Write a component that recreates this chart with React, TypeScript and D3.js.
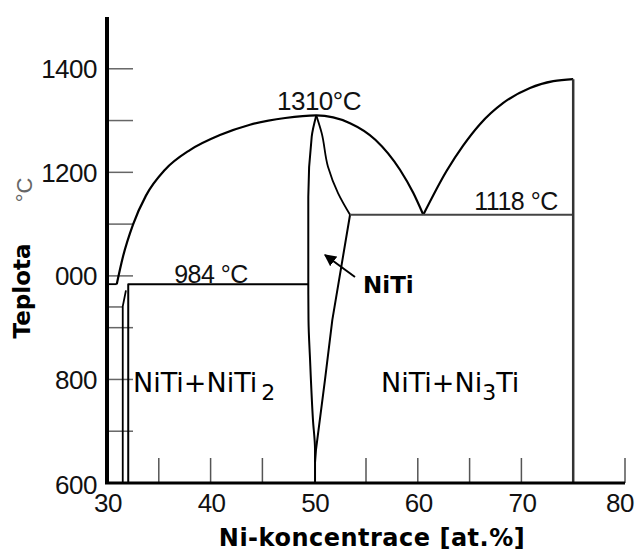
import React from "react";
import * as d3 from "d3";

// Ni–Ti binary phase diagram, Ni-rich side around the NiTi phase
const W = 638;
const H = 552;

// axis domains
const xDomain = [30, 80];
const yDomain = [600, 1500];

// tick positions and labels
const xMinorTicks = [35, 40, 45, 55, 60, 65, 70, 80];
const yMinorTicks = [700, 800, 900, 1000, 1100, 1200, 1300, 1400];
const xTickLabels = [30, 40, 50, 60, 70, 80];
const yTickValues = [1400, 1200, 1000, 800, 600];
const yTickTexts = ["1400", "1200", "000", "800", "600"];

// liquidus: dome over NiTi (Ti-rich eutectic 984 °C up to congruent melting 1310 °C, down to 1118 °C)
const liquidusDome: [number, number][] = [
  [30.94, 984], [31.54, 1037], [32.51, 1099], [33.76, 1155], [35.6, 1205],
  [38.0, 1243], [40.9, 1272], [43.8, 1292], [47.2, 1305], [50.2, 1310],
  [53.46, 1295], [55.9, 1263], [58.28, 1205], [59.57, 1160], [60.53, 1118],
];
// liquidus from the 1118 °C eutectic up to Ni3Ti melting
const liquidusNi3Ti: [number, number][] = [
  [60.53, 1118], [62.79, 1203], [64.39, 1252], [66.0, 1293], [68.25, 1334],
  [70.83, 1363], [73.08, 1376], [75, 1380],
];
// NiTi single-phase field boundaries
const nitiLeft: [number, number][] = [
  [50.2, 1310], [49.76, 1269], [49.43, 1153], [49.43, 992], [49.45, 915],
  [49.6, 838], [49.88, 722], [50.08, 664], [50.08, 600],
];
const nitiRightUpper: [number, number][] = [
  [50.2, 1310], [50.72, 1276], [51.33, 1211], [52.3, 1160], [53.46, 1118],
];
const nitiRightLower: [number, number][] = [
  [53.46, 1118], [51.75, 915], [51.04, 799], [50.17, 664], [50.08, 640],
];
// straight phase lines
const eutecticStub: [number, number][] = [[30, 984], [30.94, 984]];
const eutectoidStub: [number, number][] = [[30, 940], [31.5, 940]];
const ti2niSolvus: [number, number][] = [[31.83, 972], [31.52, 941], [31.52, 600]];
const ti2niBox: [number, number][] = [[32.05, 600], [32.05, 984], [49.43, 984]];
const eutectic1118: [number, number][] = [[53.46, 1118], [75, 1118]];
const ni3tiLine: [number, number][] = [[75, 1380], [75, 600]];

export default function App() {
  const x = d3.scaleLinear().domain(xDomain).range([107, 625]);
  const y = d3.scaleLinear().domain(yDomain).range([483, 17]);

  const monoX = d3
    .line<[number, number]>()
    .x((d) => x(d[0]))
    .y((d) => y(d[1]))
    .curve(d3.curveMonotoneX);
  const monoY = d3
    .line<[number, number]>()
    .x((d) => x(d[0]))
    .y((d) => y(d[1]))
    .curve(d3.curveMonotoneY);
  const straight = d3
    .line<[number, number]>()
    .x((d) => x(d[0]))
    .y((d) => y(d[1]));

  const tickFont = "'Liberation Sans', Arial, sans-serif";
  const labelFont = "'DejaVu Sans', Verdana, sans-serif";
  const lastX = xTickLabels[xTickLabels.length - 1];

  return (
    <svg
      width={W}
      height={H}
      style={{ position: "absolute", left: 0, top: 0, background: "#fff" }}
    >
      <defs>
        <marker id="arrowHead" viewBox="0 0 10 10" refX="9" refY="5" markerWidth="6" markerHeight="6" orient="auto">
          <path d="M0,0 L10,5 L0,10 z" fill="#000" />
        </marker>
      </defs>

      {/* inner tick marks */}
      {xMinorTicks.map((t) => (
        <line key={"xt" + t} x1={x(t)} x2={x(t)} y1={y(600)} y2={y(600) - 25} stroke="#555" strokeWidth={1.5} />
      ))}
      {yMinorTicks.map((t) => (
        <line key={"yt" + t} x1={x(30)} x2={x(30) + 26} y1={y(t)} y2={y(t)} stroke="#666" strokeWidth={1.5} />
      ))}

      {/* phase boundaries */}
      <g fill="none" stroke="#000" strokeLinejoin="round">
        <path d={monoX(liquidusDome) || ""} strokeWidth={2.2} />
        <path d={monoX(liquidusNi3Ti) || ""} strokeWidth={2.2} />
        <path d={monoY(nitiLeft) || ""} strokeWidth={2} />
        <path d={monoY(nitiRightUpper) || ""} strokeWidth={1.8} />
        <path d={straight(nitiRightLower) || ""} strokeWidth={2} />
        <path d={straight(eutecticStub) || ""} strokeWidth={1.8} />
        <path d={straight(eutectoidStub) || ""} strokeWidth={1.5} stroke="#666" />
        <path d={straight(ti2niSolvus) || ""} strokeWidth={1.8} />
        <path d={straight(ti2niBox) || ""} strokeWidth={2} />
        <path d={straight(eutectic1118) || ""} strokeWidth={2} stroke="#444" />
        <path d={straight(ni3tiLine) || ""} strokeWidth={2.5} stroke="#333" />
      </g>

      {/* axes */}
      <line x1={x(30)} x2={x(30)} y1={y(600) + 1} y2={y(1500)} stroke="#000" strokeWidth={4} />
      <line x1={x(30) - 2} x2={x(80)} y1={y(600)} y2={y(600)} stroke="#000" strokeWidth={3} />

      {/* tick labels */}
      <g fontFamily={tickFont} fontSize={26} fill="#111">
        {yTickValues.map((v, i) => (
          <text key={"yl" + v} x={97} y={y(v) + (v === 600 ? 2 : 0)} dy="0.36em" textAnchor="end" letterSpacing={-0.5}>
            {yTickTexts[i]}
          </text>
        ))}
        {xTickLabels.map((v) =>
          v === lastX ? (
            <text key={"xl" + v} x={W - 4} y={512} textAnchor="end" letterSpacing={-0.5}>
              {v}
            </text>
          ) : (
            <text key={"xl" + v} x={x(v) + 1} y={512} textAnchor="middle" letterSpacing={-0.5}>
              {v}
            </text>
          )
        )}
      </g>

      {/* temperature annotations */}
      <g fontFamily={tickFont} fill="#111" letterSpacing={-0.5}>
        <text x={319} y={110} fontSize={26} textAnchor="middle">1310°C</text>
        <text x={516} y={210} fontSize={25} textAnchor="middle">1118 °C</text>
        <text x={211} y={283} fontSize={25} textAnchor="middle">984 °C</text>
      </g>

      {/* phase field labels */}
      <g fontFamily={labelFont} fill="#000">
        <text x={363} y={293} fontSize={23} fontWeight="bold">NiTi</text>
        <text x={133} y={392} fontSize={27}>
          NiTi+NiTi<tspan dx={4} dy={8} fontSize={22}>2</tspan>
        </text>
        <text x={381} y={392} fontSize={27}>
          NiTi+Ni<tspan dy={8} fontSize={22}>3</tspan><tspan dy={-8}>Ti</tspan>
        </text>
      </g>

      {/* arrow pointing into the NiTi field */}
      <line x1={355} y1={277} x2={325} y2={255} stroke="#000" strokeWidth={2} markerEnd="url(#arrowHead)" />

      {/* axis titles */}
      <text x={372} y={546} textAnchor="middle" fontFamily={labelFont} fontSize={24} fontWeight="bold" letterSpacing={0.5} fill="#000">
        Ni-koncentrace [at.%]
      </text>
      <g transform="translate(30,291) rotate(-90)">
        <text x={0} y={0} textAnchor="middle" fontFamily={labelFont} fontSize={23} fontWeight="bold" fill="#000">
          Teplota
        </text>
      </g>
      <g transform="translate(32,190) rotate(-90)">
        <text x={0} y={0} textAnchor="middle" fontFamily={tickFont} fontSize={22} fill="#666">
          °C
        </text>
      </g>
    </svg>
  );
}
